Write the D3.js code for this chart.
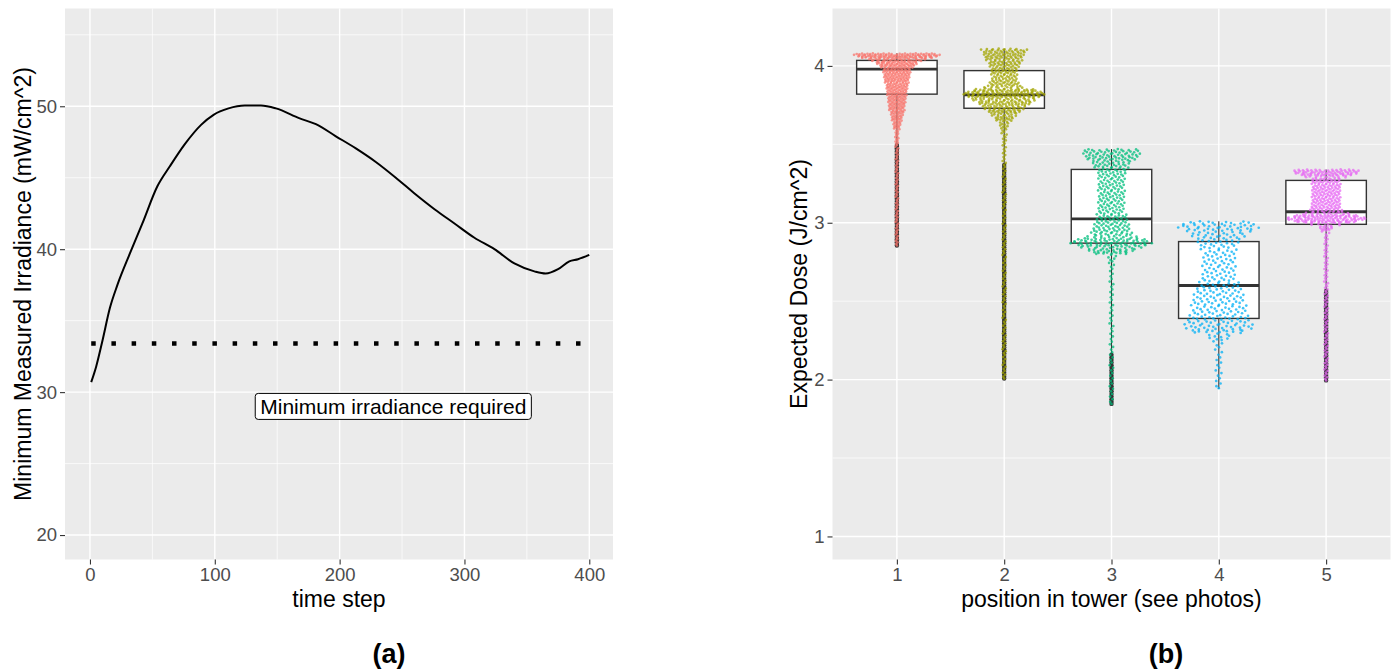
<!DOCTYPE html>
<html>
<head>
<meta charset="utf-8">
<script src="https://cdn.jsdelivr.net/npm/d3@7"></script>
<style>
  body { margin: 0; background: #fff; }
  text { font-family: "Liberation Sans", Arial, sans-serif; }
</style>
</head>
<body>
<svg id="chart" width="1395" height="671"></svg>
<script>
// (a) minimum measured irradiance by time step
var timeStep   = [1, 5, 10, 16, 22, 32, 42, 54, 64, 76, 89, 99, 111, 124, 137, 149, 168, 181, 197,
                  213, 229, 245, 260, 276, 292, 308, 324, 340, 356, 365, 375, 384, 391, 400];
var irradiance = [30.7, 31.8, 33.6, 35.9, 37.5, 39.7, 41.8, 44.4, 45.8, 47.35, 48.7, 49.4, 49.85, 50.05, 50.05, 49.85, 49.15, 48.75, 47.9,
                  47.05, 46.1, 45.0, 43.9, 42.8, 41.8, 40.8, 40.0, 39.0, 38.45, 38.3, 38.6, 39.15, 39.3, 39.6];
var minIrradiance = 33.4;
var labelPos = [243, 29];
var labelText = "Minimum irradiance required";

// (b) expected dose by position in tower: points per 0.05 J/cm^2 bin
var positions = ["1", "2", "3", "4", "5"];
var binStart = [1.80, 1.85, 1.90, 1.95, 2.00, 2.05, 2.10, 2.15, 2.20, 2.25, 2.30, 2.35, 2.40, 2.45, 2.50, 2.55,
                2.60, 2.65, 2.70, 2.75, 2.80, 2.85, 2.90, 2.95, 3.00, 3.05, 3.10, 3.15, 3.20, 3.25, 3.30, 3.35,
                3.40, 3.45, 3.50, 3.55, 3.60, 3.65, 3.70, 3.75, 3.80, 3.85, 3.90, 3.95, 4.00, 4.05, 4.10];
var counts1 = [0, 0, 0, 0, 0, 0, 0, 0, 0, 0, 0, 0, 0, 0, 0, 0, 0, 0, 0, 0, 0,
               5, 5, 5, 5, 5, 5, 5, 5, 5, 5, 5, 5, 5, 7, 7, 15, 22, 30, 34, 38, 42, 49, 53, 82, 97, 0];
var counts2 = [0, 0, 0, 0, 4, 4, 4, 4, 4, 4, 4, 4, 4, 4, 4, 4, 4, 4, 4, 4, 4, 4, 4, 4, 4, 4, 4, 4, 4, 4, 4,
               4, 4, 4, 5, 6, 11, 26, 46, 68, 100, 38, 30, 32, 40, 49, 11];
var counts3 = [1, 3, 3, 3, 3, 3, 3, 3, 3, 3, 3, 3, 3, 3, 3, 3, 3, 3, 4, 6, 39, 66, 33, 29, 25,
               21, 21, 21, 21, 21, 23, 29, 44, 18, 0, 0, 0, 0, 0, 0, 0, 0, 0, 0, 0, 0, 0];
var counts4 = [0, 0, 1, 3, 3, 3, 3, 3, 4, 11, 31, 29, 25, 24, 23, 21, 17, 15, 15, 15, 15, 19, 25, 37, 6,
               0, 0, 0, 0, 0, 0, 0, 0, 0, 0, 0, 0, 0, 0, 0, 0, 0, 0, 0, 0, 0, 0];
var counts5 = [0, 0, 0, 1, 5, 5, 5, 5, 5, 5, 5, 5, 5, 5, 5, 5, 5, 5, 5, 5, 5, 5, 5, 21, 112,
               42, 38, 38, 38, 38, 70, 0, 0, 0, 0, 0, 0, 0, 0, 0, 0, 0, 0, 0, 0, 0, 0];
var doseMin   = [2.85, 2.00, 1.84, 1.94, 1.99];
var doseMax   = [4.08, 4.11, 3.47, 3.01, 3.34];
var lowerQ    = [3.82, 3.73, 2.87, 2.39, 2.99];
var medians   = [3.98, 3.815, 3.025, 2.60, 3.07];
var upperQ    = [4.035, 3.97, 3.34, 2.88, 3.27];
var whiskLow  = [3.50, 3.37, 2.16, 1.94, 2.57];
var whiskHigh = [4.08, 4.11, 3.47, 3.01, 3.34];
var colors = ["#F8766D", "#A3A500", "#00BF7D", "#00B0F6", "#E76BF3"];

var FONT = "Liberation Sans, Arial, sans-serif";
var svg = d3.select("#chart");
svg.append("rect").attr("width", 1395).attr("height", 671).attr("fill", "#fff");

function panelBg(x0, x1, y0, y1) {
  svg.append("rect").attr("x", x0).attr("y", y0)
    .attr("width", x1 - x0).attr("height", y1 - y0).attr("fill", "#EBEBEB");
}
function hgrid(scale, vals, xr, w) {
  svg.append("g").selectAll("line").data(vals).join("line")
    .attr("x1", xr[0]).attr("x2", xr[1])
    .attr("y1", d => scale(d)).attr("y2", d => scale(d))
    .attr("stroke", "#fff").attr("stroke-width", w);
}
function vgrid(xs, yr, w) {
  svg.append("g").selectAll("line").data(xs).join("line")
    .attr("y1", yr[0]).attr("y2", yr[1])
    .attr("x1", d => d).attr("x2", d => d)
    .attr("stroke", "#fff").attr("stroke-width", w);
}
function styleAxis(g) {
  g.attr("font-family", FONT).attr("font-size", 18.5);
  g.select(".domain").remove();
  g.selectAll(".tick line").attr("stroke", "#333").attr("stroke-width", 1.1);
  g.selectAll(".tick text").attr("fill", "#4D4D4D");
}
function title(txt, x, y, rot, size, weight) {
  svg.append("text")
    .attr("transform", "translate(" + x + "," + y + ")" + (rot ? " rotate(-90)" : ""))
    .attr("text-anchor", "middle")
    .attr("font-family", FONT)
    .attr("font-size", size || 23)
    .attr("font-weight", weight || "normal")
    .attr("fill", "#000")
    .text(txt);
}

// ---------- panel (a)
var ax = { l: 65, r: 613, t: 8.5, b: 559.5 };
var x = d3.scaleLinear().domain([-20, 419]).range([ax.l, ax.r]);
var y = d3.scaleLinear().domain([18.29, 56.84]).range([ax.b, ax.t]);

panelBg(ax.l, ax.r, ax.t, ax.b);
vgrid([50, 150, 250, 350].map(x), [ax.t, ax.b], 0.7);
hgrid(y, [25, 35, 45, 55], [ax.l, ax.r], 0.7);
vgrid([0, 100, 200, 300, 400].map(x), [ax.t, ax.b], 1.4);
hgrid(y, [20, 30, 40, 50], [ax.l, ax.r], 1.4);

var series = timeStep.map((t, i) => ({ t: t, v: irradiance[i] }));
svg.append("path").datum(series)
  .attr("d", d3.line().x(d => x(d.t)).y(d => y(d.v)).curve(d3.curveMonotoneX))
  .attr("fill", "none").attr("stroke", "#000").attr("stroke-width", 2);

svg.append("line")
  .attr("x1", x(1)).attr("x2", x(400))
  .attr("y1", y(minIrradiance)).attr("y2", y(minIrradiance))
  .attr("stroke", "#000").attr("stroke-width", 4.5)
  .attr("stroke-dasharray", "4.5 15.7");

var lab = svg.append("g").attr("transform", "translate(" + x(labelPos[0]) + "," + y(labelPos[1]) + ")");
var labRect = lab.append("rect");
var labTxt = lab.append("text")
  .attr("text-anchor", "middle").attr("dy", "0.36em")
  .attr("font-family", FONT).attr("font-size", 21).attr("fill", "#000")
  .text(labelText);
var lw = labTxt.node().getComputedTextLength() + 10;
labRect.attr("x", -lw / 2).attr("y", -13).attr("width", lw).attr("height", 26)
  .attr("rx", 3).attr("fill", "#fff").attr("stroke", "#000").attr("stroke-width", 1);

svg.append("g").attr("transform", "translate(0," + ax.b + ")")
  .call(d3.axisBottom(x).tickValues([0, 100, 200, 300, 400]).tickSize(5).tickPadding(3))
  .call(styleAxis);
svg.append("g").attr("transform", "translate(" + ax.l + ",0)")
  .call(d3.axisLeft(y).tickValues([20, 30, 40, 50]).tickSize(5).tickPadding(3))
  .call(styleAxis);

title("time step", (ax.l + ax.r) / 2, 607);
title("Minimum Measured Irradiance (mW/cm^2)", 31, (ax.t + ax.b) / 2, true);
title("(a)", 389, 663, false, 27, "bold");

// ---------- panel (b)
var bx = { l: 832.5, r: 1390.5, t: 8.5, b: 559.5 };
var xb = d3.scalePoint().domain(positions).range([bx.l, bx.r]).padding(0.6);
var yb = d3.scaleLinear().domain([0.853, 4.366]).range([bx.b, bx.t]);

panelBg(bx.l, bx.r, bx.t, bx.b);
hgrid(yb, [1.5, 2.5, 3.5], [bx.l, bx.r], 0.7);
hgrid(yb, [1, 2, 3, 4], [bx.l, bx.r], 1.4);
vgrid(positions.map(xb), [bx.t, bx.b], 1.4);

function vdc(n) {
  var v = 0, f = 0.5;
  while (n > 0) { v += f * (n & 1); n >>= 1; f /= 2; }
  return v;
}

var allCounts = [counts1, counts2, counts3, counts4, counts5];
var halfMax = 0.4 * xb.step();
var halfBox = 0.375 * xb.step();

positions.forEach(function(p, g) {
  var bins = binStart.map(function(lo, k) {
    var a = Math.max(lo, doseMin[g]), b = Math.min(lo + 0.05, doseMax[g]);
    var n = allCounts[g][k];
    return { lo: a, hi: b, n: n, c: (a + b) / 2, d: (b > a) ? n / (b - a) : 0 };
  }).filter(b => b.n > 0 && b.hi > b.lo);
  var maxD = d3.max(bins, b => b.d);

  function dens(v) {
    if (v <= bins[0].c) return bins[0].d;
    for (var i = 0; i < bins.length - 1; i++) {
      if (v <= bins[i + 1].c) {
        var f = (v - bins[i].c) / (bins[i + 1].c - bins[i].c);
        return bins[i].d + f * (bins[i + 1].d - bins[i].d);
      }
    }
    return bins[bins.length - 1].d;
  }

  var vals = [];
  bins.forEach(function(b) {
    for (var i = 0; i < b.n; i++) vals.push(b.lo + (i + 0.5) / b.n * (b.hi - b.lo));
  });
  vals.sort(d3.ascending);
  var pts = vals.map((v, j) => ({ v: v, off: (2 * vdc(j + 1) - 1) * dens(v) / maxD }));

  var cx = xb(p);
  var gb = svg.append("g");
  gb.append("line").attr("x1", cx).attr("x2", cx)
    .attr("y1", yb(whiskHigh[g])).attr("y2", yb(upperQ[g]))
    .attr("stroke", "#333").attr("stroke-width", 1.1);
  gb.append("line").attr("x1", cx).attr("x2", cx)
    .attr("y1", yb(lowerQ[g])).attr("y2", yb(whiskLow[g]))
    .attr("stroke", "#333").attr("stroke-width", 1.1);
  gb.append("rect")
    .attr("x", cx - halfBox).attr("y", yb(upperQ[g]))
    .attr("width", 2 * halfBox).attr("height", yb(lowerQ[g]) - yb(upperQ[g]))
    .attr("fill", "#fff").attr("stroke", "#333").attr("stroke-width", 1.4);
  gb.append("line").attr("x1", cx - halfBox).attr("x2", cx + halfBox)
    .attr("y1", yb(medians[g])).attr("y2", yb(medians[g]))
    .attr("stroke", "#333").attr("stroke-width", 2.8);
  gb.selectAll(".outlier").data(pts.filter(d => d.v < whiskLow[g] || d.v > whiskHigh[g]))
    .join("circle").attr("class", "outlier")
    .attr("cx", cx).attr("cy", d => yb(d.v)).attr("r", 2.2)
    .attr("fill", "#333");

  svg.append("g").selectAll("circle").data(pts).join("circle")
    .attr("cx", d => cx + d.off * halfMax)
    .attr("cy", d => yb(d.v))
    .attr("r", 1.35)
    .attr("fill", colors[g])
    .attr("fill-opacity", 0.75);
});

svg.append("g").attr("transform", "translate(0," + bx.b + ")")
  .call(d3.axisBottom(xb).tickSize(5).tickPadding(3))
  .call(styleAxis);
svg.append("g").attr("transform", "translate(" + bx.l + ",0)")
  .call(d3.axisLeft(yb).tickValues([1, 2, 3, 4]).tickFormat(d3.format("d")).tickSize(5).tickPadding(3))
  .call(styleAxis);

title("position in tower (see photos)", (bx.l + bx.r) / 2, 607);
title("Expected Dose (J/cm^2)", 807, (bx.t + bx.b) / 2, true);
title("(b)", 1166, 663, false, 27, "bold");
</script>
</body>
</html>
